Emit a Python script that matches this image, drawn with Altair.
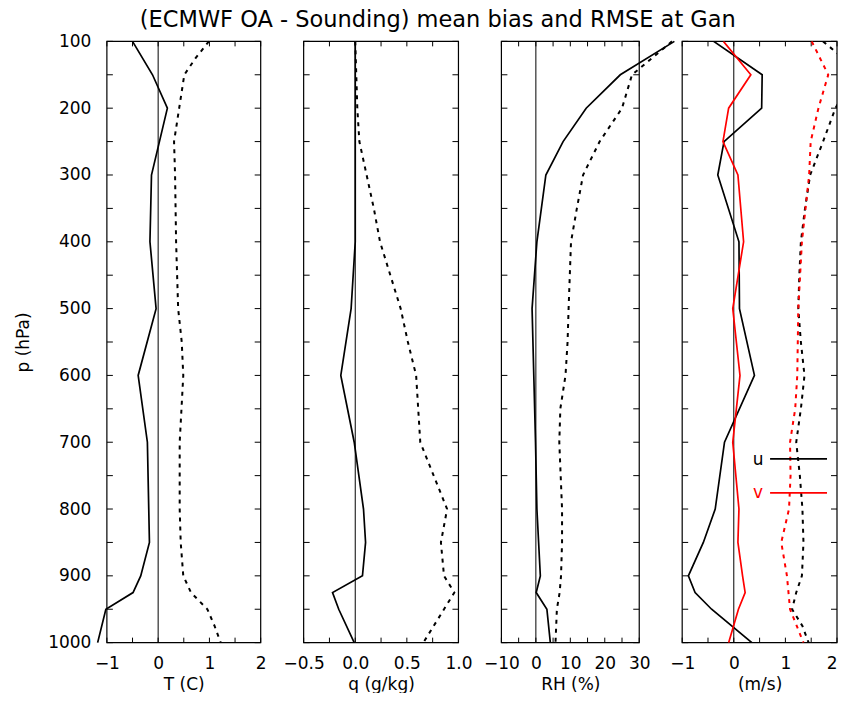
import altair as alt
import pandas as pd

FONT = "DejaVu Sans"

# ---------------- data ----------------
# Panel 1: temperature (C)
t_bias_p = [100, 150, 200, 300, 400, 500, 600, 700, 850, 900, 925, 950, 1000]
t_bias = [-0.50, -0.11, 0.18, -0.13, -0.16, -0.04, -0.39, -0.21, -0.17, -0.34, -0.49, -1.02, -1.18]
t_rmse_p = [100, 125, 150, 200, 250, 300, 400, 500, 550, 600, 700, 800, 850, 900, 925, 950, 975, 1000]
t_rmse = [0.99, 0.73, 0.51, 0.41, 0.31, 0.33, 0.35, 0.39, 0.46, 0.49, 0.42, 0.42, 0.44, 0.49, 0.64, 0.96, 1.10, 1.22]

# Panel 2: specific humidity (g/kg)
q_bias_p = [100, 200, 300, 400, 500, 600, 700, 800, 850, 900, 925, 950, 1000]
q_bias = [0.0, 0.0, 0.0, 0.0, -0.04, -0.14, -0.01, 0.08, 0.10, 0.07, -0.22, -0.16, -0.01]
q_rmse_p = [100, 200, 250, 300, 350, 400, 450, 500, 550, 600, 650, 700, 750, 800, 850, 900, 925, 950, 1000]
q_rmse = [0.0, 0.02, 0.04, 0.11, 0.18, 0.24, 0.34, 0.44, 0.51, 0.59, 0.61, 0.63, 0.76, 0.89, 0.83, 0.86, 0.96, 0.86, 0.66]

# Panel 3: relative humidity (%)
rh_bias_p = [100, 150, 200, 250, 300, 400, 500, 600, 700, 800, 850, 900, 925, 950, 1000]
rh_bias = [40.2, 24.5, 14.6, 7.9, 2.9, 0.3, -1.1, -0.6, -0.1, 0.3, 0.8, 1.3, 0.1, 3.2, 4.2]
rh_rmse_p = [100, 150, 200, 250, 300, 350, 400, 500, 550, 600, 650, 700, 800, 850, 900, 925, 950, 1000]
rh_rmse = [39.5, 27.9, 25.0, 18.5, 13.7, 11.9, 10.2, 9.5, 9.2, 8.6, 7.1, 6.8, 7.6, 7.6, 7.3, 6.9, 6.1, 5.7]

# Panel 4: wind (m/s)
u_bias_p = [100, 150, 200, 250, 300, 400, 500, 600, 700, 800, 850, 900, 925, 950, 1000]
u_bias = [-0.39, 0.55, 0.54, -0.19, -0.31, 0.10, 0.11, 0.40, -0.18, -0.36, -0.59, -0.88, -0.75, -0.43, 0.35]
v_bias_p = [100, 150, 200, 250, 300, 400, 500, 600, 700, 800, 850, 900, 925, 950, 1000]
v_bias = [-0.20, 0.33, -0.10, -0.21, 0.08, 0.19, -0.02, 0.12, -0.02, 0.10, 0.08, 0.17, 0.22, 0.09, -0.10]
u_rmse_p = [100, 125, 150, 175, 200, 250, 300, 350, 400, 450, 500, 550, 600, 650, 700, 750, 800, 850, 900, 925, 950, 975, 1000]
u_rmse = [1.73, 2.12, 2.35, 2.15, 1.97, 1.73, 1.48, 1.38, 1.30, 1.27, 1.25, 1.30, 1.37, 1.30, 1.21, 1.28, 1.33, 1.35, 1.32, 1.21, 1.13, 1.33, 1.45]
v_rmse_p = [100, 150, 200, 250, 300, 400, 500, 600, 650, 700, 750, 800, 850, 900, 950, 975, 1000]
v_rmse = [1.51, 1.83, 1.64, 1.49, 1.46, 1.32, 1.25, 1.23, 1.19, 1.09, 1.10, 1.07, 0.92, 1.03, 1.09, 1.22, 1.35]

p_ticks = list(range(100, 1001, 50))
t_ticks = [-1, -0.5, 0, 0.5, 1, 1.5, 2]
q_ticks = [-0.5, -0.25, 0, 0.25, 0.5, 0.75, 1.0]
rh_ticks = [-10, -5, 0, 5, 10, 15, 20, 25, 30]
w_ticks = [-1, -0.5, 0, 0.5, 1, 1.5, 2]

TITLE = "(ECMWF OA - Sounding) mean bias and RMSE at Gan"
PANEL_H = 602
TSY = 6
TSX = 5


def df(p, v):
    return pd.DataFrame({"p": p, "v": v})


def make_panel(width, dom, ticks, major, fmt, xtitle, series, show_ylab, extra=None, clip=False,
               last_right=False):
    xs = alt.Scale(domain=dom, nice=False, zero=False)
    ys = alt.Scale(domain=[100, 1000], reverse=True, nice=False, zero=False)
    common = dict(domain=False, grid=False, ticks=False,
                  labelFont=FONT, labelFontSize=17, labelColor="black",
                  titleFont=FONT, titleFontSize=17, titleFontWeight="normal",
                  titleColor="black", labelFlush=False, labelOverlap=False)
    bottom_extra = {}
    if last_right:
        bottom_extra["labelAlign"] = {"condition": {"test": f"datum.value >= {dom[1]}", "value": "right"},
                                      "value": "center"}
    ax_bottom = alt.Axis(orient="bottom", values=ticks,
                         labelExpr=f"abs(datum.value % {major}) < 1e-9 ? format(datum.value, '{fmt}') : ''",
                         labelPadding=13, title=xtitle, titleBaseline="middle", titleY=42,
                         titleX=width / 2, titleAlign="center", **bottom_extra, **common)
    ax_left = None
    if show_ylab:
        ax_left = alt.Axis(orient="left", values=p_ticks,
                           labelExpr="datum.value % 100 == 0 ? format(datum.value, 'd') : ''",
                           labelPadding=16, title="p (hPa)", titleBaseline="middle",
                           titleX=-83, titleY=PANEL_H / 2, titleAngle=270, titleAlign="center",
                           **common)

    one = pd.DataFrame({"a": [0]})
    ydf = pd.DataFrame({"p": p_ticks})
    xdf = pd.DataFrame({"t": ticks})

    layers = []
    # frame
    layers.append(alt.Chart(one).mark_rect(fillOpacity=0, stroke="black", strokeWidth=1.2).encode(
        x=alt.value(0), x2=alt.value(width), y=alt.value(0), y2=alt.value(PANEL_H)))
    # inward ticks: left / right
    layers.append(alt.Chart(ydf).mark_rule(color="black", strokeWidth=1).encode(
        y=alt.Y("p:Q", scale=ys, axis=ax_left), x=alt.value(0), x2=alt.value(TSY)))
    layers.append(alt.Chart(ydf).mark_rule(color="black", strokeWidth=1).encode(
        y=alt.Y("p:Q", scale=ys, axis=None), x=alt.value(width - TSY), x2=alt.value(width)))
    # inward ticks: bottom / top
    layers.append(alt.Chart(xdf).mark_rule(color="black", strokeWidth=1).encode(
        x=alt.X("t:Q", scale=xs, axis=ax_bottom), y=alt.value(PANEL_H - TSX), y2=alt.value(PANEL_H)))
    layers.append(alt.Chart(xdf).mark_rule(color="black", strokeWidth=1).encode(
        x=alt.X("t:Q", scale=xs, axis=None), y=alt.value(0), y2=alt.value(TSX)))
    # zero line
    layers.append(alt.Chart(pd.DataFrame({"z": [0]})).mark_rule(color="black", strokeWidth=1).encode(
        x=alt.X("z:Q", scale=xs, axis=None)))

    for data, color, dash in series:
        mk = dict(color=color, strokeWidth=1.7, clip=clip)
        if dash:
            mk["strokeDash"] = [4, 5]
            mk["strokeWidth"] = 2
        layers.append(
            alt.Chart(data).mark_line(**mk).encode(
                x=alt.X("v:Q", scale=xs, axis=None),
                y=alt.Y("p:Q", scale=ys, axis=None),
                order=alt.Order("p:Q"),
            )
        )
    if extra:
        layers.extend(extra)
    return alt.layer(*layers).resolve_axis(x="independent", y="independent").properties(
        width=width, height=PANEL_H)


one_row = pd.DataFrame({"a": [0]})
legend_layers = [
    alt.Chart(one_row).mark_text(text="u", font=FONT, fontSize=17, color="black",
                                 align="center", baseline="middle").encode(
        x=alt.value(76), y=alt.value(419)),
    alt.Chart(one_row).mark_rule(color="black", strokeWidth=1.7).encode(
        x=alt.value(88), x2=alt.value(145), y=alt.value(418)),
    alt.Chart(one_row).mark_text(text="v", font=FONT, fontSize=17, color="red",
                                 align="center", baseline="middle").encode(
        x=alt.value(76), y=alt.value(452)),
    alt.Chart(one_row).mark_rule(color="red", strokeWidth=1.7).encode(
        x=alt.value(88), x2=alt.value(145), y=alt.value(452)),
]

p1 = make_panel(154, [-1, 2], t_ticks, 1, "d", "T (C)",
                [(df(t_bias_p, t_bias), "black", False), (df(t_rmse_p, t_rmse), "black", True)], True)
p2 = make_panel(155, [-0.5, 1.0], q_ticks, 0.5, ".1f", "q (g/kg)",
                [(df(q_bias_p, q_bias), "black", False), (df(q_rmse_p, q_rmse), "black", True)], False)
p3 = make_panel(138, [-10, 30], rh_ticks, 10, "d", "RH (%)",
                [(df(rh_bias_p, rh_bias), "black", False), (df(rh_rmse_p, rh_rmse), "black", True)], False)
p4 = make_panel(155, [-1, 2], w_ticks, 1, "d", "(m/s)",
                [(df(u_bias_p, u_bias), "black", False), (df(u_rmse_p, u_rmse), "black", True),
                 (df(v_bias_p, v_bias), "red", False), (df(v_rmse_p, v_rmse), "red", True)],
                False, extra=legend_layers, clip=True, last_right=True)

chart = alt.hconcat(p1, p2, p3, p4, spacing=43, bounds="flush").properties(
    title=alt.TitleParams(TITLE, anchor="start", dx=125, font=FONT, fontSize=22.5,
                          fontWeight="normal", color="black", offset=1),
    padding={"left": 7, "top": 0, "right": 0, "bottom": 0},
    background="white",
).configure_view(strokeWidth=0)

chart.save("out.html", embed_options={"renderer": "svg", "actions": False})
